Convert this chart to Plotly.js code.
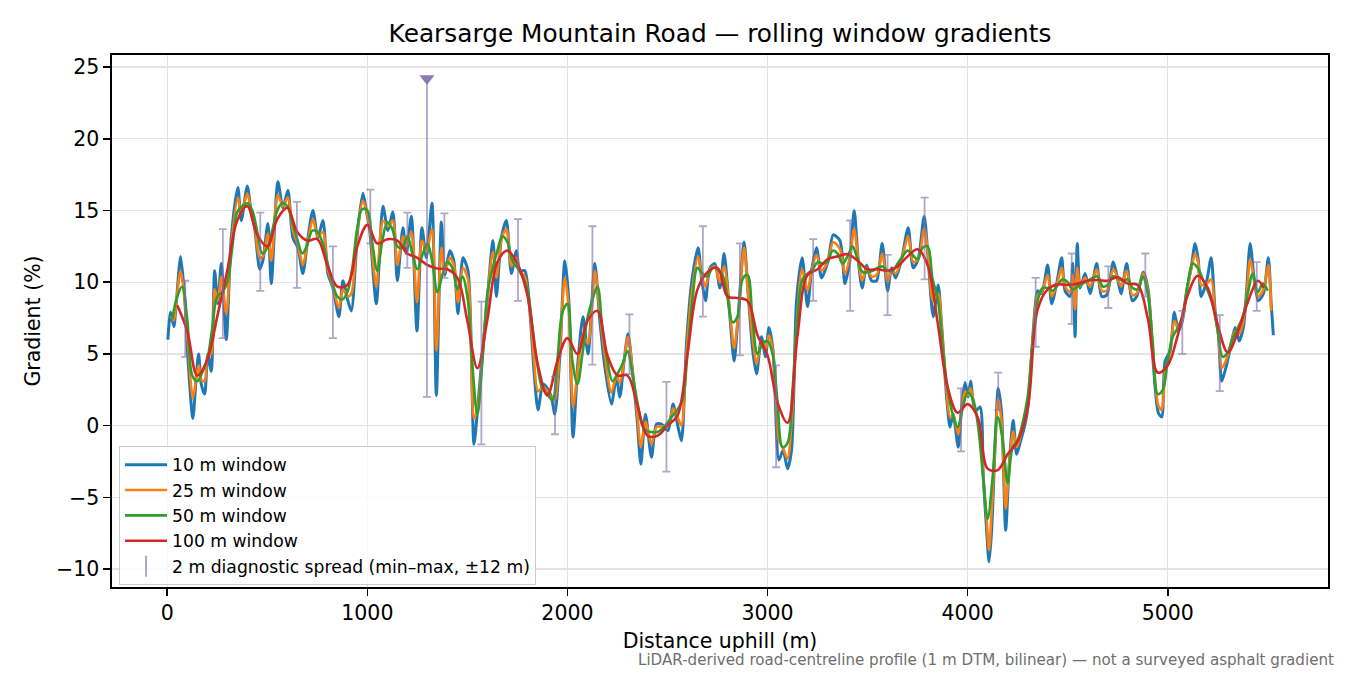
<!DOCTYPE html>
<html>
<head>
<meta charset="utf-8">
<script src="https://cdn.plot.ly/plotly-3.0.1.min.js"></script>
<style>
  html, body { margin: 0; padding: 0; background: #ffffff; }
  #gradVis { width: 1350px; height: 675px; }
</style>
</head>
<body>
<div id="gradVis"></div>
<script>
//Purpose: Rolling window gradient profile of Kearsarge Mountain Road

//////////////////////////////////////////////
///********      Chart data          *******///
//////////////////////////////////////////////
//Each series is a list of [distance (m), gradient (%)]

var win10 = [[3,6.0],[17,7.9],[33,6.9],[45,8.5],[67,11.8],[87,9.0],[103,4.8],[128,0.5],[145,3.4],[157,5.0],
  [170,2.9],[187,2.2],[203,5.0],[220,3.8],[237,10.8],[253,8.5],[270,11.3],[295,6.0],[320,13.1],[353,16.6],
  [370,14.3],[400,16.7],[420,14.8],[437,13.8],[462,10.9],[478,11.5],[503,14.1],[520,9.9],[553,17.0],[578,15.2],
  [603,16.4],[628,13.1],[653,12.4],[678,10.6],[703,13.1],[728,15.0],[753,13.1],[778,14.3],[803,10.6],[828,9.6],
  [858,7.6],[878,10.1],[903,8.7],[920,8.0],[953,13.8],[978,16.2],[995,15.0],[1012,13.6],[1045,8.5],[1078,15.3],
  [1103,13.6],[1128,14.9],[1150,10.1],[1178,13.8],[1195,12.0],[1220,14.6],[1248,6.6],[1273,13.8],[1295,11.7],[1323,15.5],
  [1345,2.1],[1370,14.2],[1387,10.5],[1412,12.2],[1432,11.5],[1453,7.8],[1478,11.7],[1503,10.8],[1533,-1.3],[1553,1.5],
  [1575,5.0],[1595,8.0],[1628,12.9],[1645,9.0],[1670,13.1],[1695,14.3],[1720,10.6],[1745,12.2],[1762,10.8],[1787,10.8],
  [1812,8.0],[1832,4.0],[1853,1.1],[1878,2.9],[1900,2.6],[1920,2.0],[1937,0.8],[1962,4.8],[1987,11.5],[2007,8.7],
  [2028,-0.8],[2053,4.5],[2078,7.6],[2103,5.0],[2137,11.3],[2162,7.3],[2187,4.1],[2220,1.5],[2245,3.4],[2262,2.0],
  [2283,4.5],[2303,6.4],[2328,3.4],[2348,0.5],[2367,-2.7],[2390,0.8],[2420,-2.2],[2445,0.1],[2470,0.1],[2503,-0.35],
  [2528,1.5],[2553,-0.1],[2570,-1.05],[2595,5.7],[2620,9.9],[2653,12.4],[2670,10.3],[2690,8.7],[2712,11.0],[2737,11.3],
  [2762,9.6],[2783,12.0],[2812,7.6],[2833,4.5],[2853,7.6],[2883,12.8],[2903,9.2],[2928,5.0],[2945,3.6],[2970,6.2],
  [2990,4.8],[3007,6.85],[3028,5.2],[3057,-2.4],[3078,-1.7],[3100,-3.0],[3120,-1.7],[3145,8.7],[3173,11.7],[3200,8.3],
  [3220,10.8],[3245,12.4],[3270,10.3],[3303,11.5],[3328,13.3],[3362,12.9],[3387,9.9],[3412,11.6],[3433,15.0],[3453,11.6],
  [3473,9.6],[3495,11.2],[3520,10.1],[3545,10.1],[3573,12.7],[3600,9.4],[3620,11.0],[3640,10.3],[3670,11.6],[3703,13.8],
  [3728,11.0],[3753,11.6],[3783,14.6],[3803,11.6],[3828,7.6],[3853,9.8],[3870,7.0],[3895,2.0],[3912,-0.1],[3928,0.8],
  [3953,-1.5],[3970,1.3],[3987,3.0],[4003,2.0],[4015,3.1],[4037,1.0],[4062,1.3],[4078,-3.5],[4095,-7.3],[4107,-9.5],
  [4120,-7.3],[4137,-1.5],[4153,2.6],[4170,0.8],[4190,-7.3],[4208,-2.7],[4228,0.35],[4245,-2.0],[4265,-1.05],[4287,0.1],
  [4303,1.5],[4328,6.6],[4350,9.4],[4370,9.2],[4400,11.2],[4420,8.5],[4445,9.9],[4470,11.7],[4487,9.4],[4512,9.0],
  [4525,11.3],[4537,6.2],[4548,12.7],[4562,9.6],[4587,10.6],[4612,9.2],[4645,11.3],[4670,9.0],[4695,9.1],[4728,11.4],
  [4753,10.0],[4767,9.2],[4795,11.3],[4823,8.7],[4845,9.0],[4878,10.7],[4903,9.4],[4928,4.3],[4953,0.9],[4970,0.6],
  [4987,4.5],[5012,5.2],[5033,7.9],[5053,6.6],[5073,7.3],[5095,9.4],[5117,11.0],[5137,12.7],[5153,11.5],[5167,9.0],
  [5195,10.1],[5217,11.7],[5237,8.0],[5253,6.4],[5270,3.1],[5290,4.0],[5312,5.35],[5337,6.85],[5357,5.9],[5378,6.85],
  [5395,9.6],[5412,12.7],[5433,10.1],[5453,8.7],[5478,9.2],[5503,11.7],[5517,8.5],[5528,6.3]];

var win25 = [[17,7.6],[33,7.35],[45,8.6],[67,10.8],[87,8.8],[103,5.8],[128,1.9],[145,3.3],[157,4.2],
  [170,3.2],[187,3.1],[203,4.9],[220,5.0],[237,9.5],[253,8.7],[270,10.4],[295,7.8],[320,12.6],[353,15.9],
  [370,14.8],[400,16.2],[420,14.9],[437,14.0],[462,11.7],[478,11.8],[503,13.4],[520,11.5],[553,16.1],[578,15.3],
  [603,15.9],[628,13.6],[653,12.6],[678,11.2],[703,12.9],[728,14.4],[753,13.2],[778,13.5],[803,10.9],[828,9.7],
  [858,8.2],[878,9.5],[903,9.0],[920,9.2],[953,13.9],[978,15.7],[995,15.0],[1012,13.8],[1045,9.7],[1078,14.3],
  [1103,13.9],[1128,14.3],[1150,11.2],[1178,13.2],[1195,12.5],[1220,13.5],[1248,8.6],[1273,12.9],[1295,12.1],[1323,13.7],
  [1345,5.2],[1370,12.4],[1387,10.7],[1412,11.7],[1432,11.2],[1453,8.6],[1478,11.0],[1503,10.2],[1533,0.5],[1553,1.4],
  [1575,4.8],[1595,8.2],[1628,12.1],[1645,10.3],[1670,13.0],[1695,13.7],[1720,11.1],[1745,11.7],[1762,10.8],[1787,10.4],
  [1812,8.1],[1832,4.8],[1853,2.4],[1878,2.7],[1900,2.4],[1920,1.95],[1937,1.8],[1962,5.5],[1987,10.3],[2007,8.1],
  [2028,1.3],[2053,4.0],[2078,6.3],[2103,5.7],[2137,10.8],[2162,7.9],[2187,4.9],[2220,2.3],[2245,3.45],[2262,3.0],
  [2283,4.5],[2303,6.2],[2328,3.5],[2348,1.0],[2367,-1.5],[2390,0.3],[2420,-1.3],[2445,-0.1],[2470,-0.05],[2503,0.0],
  [2528,1.2],[2553,0.5],[2570,0.0],[2595,5.0],[2620,9.1],[2653,11.8],[2670,10.5],[2690,9.7],[2712,10.9],[2737,11.1],
  [2762,10.0],[2783,11.1],[2812,7.9],[2833,5.4],[2853,7.6],[2883,12.4],[2903,9.2],[2928,5.9],[2945,4.3],[2970,5.8],
  [2990,5.3],[3007,6.3],[3028,5.1],[3057,-1.0],[3078,-1.6],[3100,-2.3],[3120,0.2],[3145,6.8],[3173,10.9],[3200,9.4],
  [3220,10.8],[3245,11.9],[3270,10.8],[3303,11.5],[3328,12.8],[3362,12.3],[3387,10.6],[3412,11.8],[3433,13.7],[3453,11.6],
  [3473,10.1],[3495,11.0],[3520,10.4],[3545,10.5],[3573,12.0],[3600,10.0],[3620,10.9],[3640,10.6],[3670,11.6],[3703,13.2],
  [3728,11.4],[3753,11.6],[3783,13.7],[3803,11.9],[3828,8.7],[3853,9.2],[3870,6.8],[3895,2.5],[3912,0.6],[3928,0.7],
  [3953,-0.6],[3970,1.1],[3987,2.4],[4003,2.1],[4015,2.6],[4037,1.1],[4062,-0.1],[4078,-3.5],[4095,-6.5],[4107,-8.7],
  [4120,-6.0],[4137,-1.6],[4153,1.9],[4170,0.1],[4190,-5.8],[4208,-2.7],[4228,-0.4],[4245,-1.5],[4265,-0.7],[4287,0.5],
  [4303,1.9],[4328,6.4],[4350,9.1],[4370,9.3],[4400,10.5],[4420,9.0],[4445,9.8],[4470,11.0],[4487,9.7],[4512,9.3],
  [4525,10.5],[4537,8.1],[4548,11.0],[4562,9.7],[4587,10.3],[4612,9.7],[4645,10.9],[4670,9.4],[4695,9.4],[4728,10.9],
  [4753,10.15],[4767,9.7],[4795,10.8],[4823,9.1],[4845,9.2],[4878,10.6],[4903,9.2],[4928,4.9],[4953,1.4],[4970,1.1],
  [4987,3.7],[5012,5.25],[5033,7.3],[5053,6.8],[5073,7.4],[5095,9.3],[5117,10.9],[5137,12.0],[5153,11.3],[5167,9.8],
  [5195,9.9],[5217,10.2],[5237,7.7],[5253,6.3],[5270,4.0],[5290,4.5],[5312,5.5],[5337,6.6],[5357,6.4],[5378,7.3],
  [5395,9.1],[5412,11.6],[5433,10.1],[5453,9.0],[5478,9.5],[5503,11.2],[5517,8.0]];

var win50 = [[25,7.4],[50,9.0],[75,9.7],[100,7.4],[125,3.5],[150,3.1],[175,3.7],[200,4.6],[225,6.8],[250,9.0],
  [275,9.3],[300,10.0],[325,12.4],[350,14.9],[375,15.3],[400,15.5],[425,15.0],[450,13.5],[475,12.0],[500,12.4],
  [525,13.6],[550,15.0],[575,15.5],[600,15.3],[625,14.2],[650,13.0],[675,12.0],[700,12.6],[725,13.6],[750,13.5],
  [775,12.8],[800,11.4],[825,10.0],[850,9.0],[875,8.8],[900,9.3],[925,11.0],[950,13.8],[975,15.1],[1000,15.0],
  [1025,12.7],[1050,10.8],[1075,12.9],[1100,14.2],[1125,13.7],[1150,12.5],[1175,12.4],[1200,13.2],[1225,12.0],[1250,10.9],
  [1275,11.9],[1300,12.7],[1325,11.4],[1350,9.3],[1375,10.5],[1400,11.4],[1425,11.0],[1450,9.5],[1475,10.4],[1500,9.0],
  [1525,4.2],[1550,0.8],[1575,4.5],[1600,9.2],[1625,10.9],[1650,12.2],[1675,13.2],[1700,12.8],[1725,11.5],[1750,11.0],
  [1775,10.4],[1800,9.5],[1825,6.9],[1850,4.2],[1875,2.6],[1900,2.2],[1925,1.8],[1950,4.6],[1975,7.9],[2000,8.5],
  [2025,4.5],[2050,2.9],[2075,5.0],[2100,7.5],[2125,8.8],[2150,9.7],[2175,6.7],[2200,4.5],[2225,3.1],[2250,3.6],
  [2275,4.3],[2300,5.2],[2325,3.6],[2350,1.6],[2375,0.0],[2400,-0.4],[2425,-0.45],[2450,-0.45],[2475,-0.2],[2500,0.2],
  [2525,0.7],[2550,1.1],[2575,1.8],[2600,5.0],[2625,8.8],[2650,11.0],[2675,10.6],[2700,10.4],[2725,11.0],[2750,10.9],
  [2775,10.5],[2800,8.9],[2825,7.2],[2850,7.6],[2875,10.2],[2900,10.5],[2925,7.4],[2950,5.0],[2975,5.7],[3000,5.9],
  [3025,5.0],[3050,1.6],[3075,-1.5],[3100,-1.2],[3125,2.5],[3150,7.5],[3175,10.2],[3200,10.6],[3225,10.9],[3250,11.4],
  [3275,11.3],[3300,11.4],[3325,12.2],[3350,12.0],[3375,11.3],[3400,11.8],[3425,12.5],[3450,11.6],[3475,10.7],[3500,10.7],
  [3525,10.8],[3550,11.0],[3575,11.1],[3600,10.8],[3625,10.8],[3650,11.3],[3675,11.8],[3700,12.2],[3725,11.9],[3750,11.6],
  [3775,12.4],[3800,12.5],[3825,10.2],[3850,8.9],[3875,5.5],[3900,2.6],[3925,0.8],[3950,-0.1],[3975,1.2],[4000,2.3],
  [4025,1.9],[4050,0.2],[4075,-3.2],[4100,-6.5],[4125,-3.6],[4150,0.6],[4175,-1.0],[4200,-4.0],[4225,-1.5],[4250,-1.0],
  [4275,0.2],[4300,2.0],[4325,5.8],[4350,8.7],[4375,9.6],[4400,9.6],[4425,9.4],[4450,9.8],[4475,10.2],[4500,10.0],
  [4525,9.5],[4550,9.7],[4575,9.9],[4600,10.1],[4625,10.3],[4650,10.4],[4675,9.7],[4700,9.8],[4725,10.4],[4750,10.3],
  [4775,10.1],[4800,10.2],[4825,9.6],[4850,9.5],[4875,10.4],[4900,9.2],[4925,5.8],[4950,2.2],[4975,2.5],[5000,4.5],
  [5025,6.2],[5050,6.8],[5075,7.7],[5100,9.9],[5125,11.3],[5150,11.0],[5175,10.2],[5200,9.4],[5225,8.4],[5250,6.6],
  [5275,4.8],[5300,5.1],[5325,6.1],[5350,6.8],[5375,7.6],[5400,9.2],[5425,10.6],[5450,9.3],[5475,9.9],[5500,9.4]];

var win100 = [[50,8.4],[100,6.6],[150,3.5],[200,4.6],[250,7.6],[300,10.8],[350,14.3],[400,15.3],[450,13.3],[500,12.5],
  [550,14.4],[600,15.2],[650,13.5],[700,12.9],[750,13.0],[800,11.2],[850,9.7],[900,9.8],[950,12.5],[1000,14.0],
  [1050,12.7],[1100,13.0],[1150,12.9],[1200,12.0],[1250,11.7],[1300,11.2],[1350,10.95],[1400,10.9],[1450,10.3],[1500,7.3],
  [1550,4.0],[1600,7.4],[1650,11.4],[1700,12.2],[1750,11.3],[1800,9.1],[1850,4.4],[1900,2.1],[1950,4.5],[2000,6.1],
  [2050,5.0],[2100,7.3],[2150,8.0],[2200,4.9],[2250,3.5],[2300,3.5],[2350,1.4],[2400,-0.7],[2450,-0.7],[2500,0.0],
  [2550,0.7],[2600,5.0],[2650,9.5],[2700,10.7],[2750,11.0],[2800,9.0],[2850,8.9],[2900,8.7],[2950,6.3],[3000,4.9],
  [3050,1.6],[3100,0.2],[3150,6.3],[3200,10.5],[3250,10.9],[3300,11.6],[3350,11.8],[3400,11.95],[3450,11.5],[3500,10.9],
  [3550,10.9],[3600,10.8],[3650,11.1],[3700,11.8],[3750,12.3],[3800,11.2],[3850,7.2],[3900,2.7],[3950,0.9],[4000,1.5],
  [4050,0.6],[4100,-3.0],[4150,-3.1],[4200,-2.0],[4250,-1.1],[4300,1.2],[4350,8.1],[4400,9.5],[4450,9.85],[4500,9.8],
  [4550,9.9],[4600,10.1],[4650,10.15],[4700,10.1],[4750,10.35],[4800,9.9],[4850,9.8],[4900,7.5],[4950,3.7],[5000,4.2],
  [5050,6.3],[5100,9.1],[5150,10.45],[5200,9.6],[5250,7.0],[5300,5.1],[5350,6.5],[5400,8.6],[5450,10.1],[5480,9.6]];

//2 m diagnostic spread: checkpoint distance, min and max gradient within +-12 m
var spreadDist = [90, 278, 465, 648, 828, 1015, 1200, 1298, 1385, 1570, 1753, 1938, 2125, 2310, 2495, 2677,
  2862, 3043, 3228, 3413, 3600, 3785, 3967, 4153, 4340, 4520, 4703, 4888, 5073, 5260, 5445];
var spreadMin = [4.8, 6.1, 9.4, 9.6, 6.1, 12.7, 11.0, 2.0, 10.3, -1.3, 8.7, -0.6, 4.25, 3.6, -3.2, 7.6,
  4.9, -2.9, 8.7, 8.0, 7.7, 10.2, -1.8, 1.1, 5.5, 7.1, 8.2, 9.0, 5.0, 2.4, 8.0];
var spreadMax = [10.1, 13.7, 14.85, 15.6, 12.5, 16.45, 14.85, 24.2, 14.8, 8.65, 14.4, 3.4, 13.9, 7.75, 3.05, 13.9,
  12.7, 4.2, 13.0, 14.3, 11.9, 15.9, 2.6, 3.7, 10.3, 12.0, 11.1, 12.0, 8.0, 7.7, 11.4];
//Spread that runs off the top of the chart, flagged with a marker
var clipDist = [1298];
var clipGrad = [24.2];

var seriesNames = ['10 m window', '25 m window', '50 m window', '100 m window'];
var seriesColors = ['#1f77b4', '#ff7f0e', '#2ca02c', '#d62728'];
var spreadName = '2 m diagnostic spread (min\u2013max, \u00b112 m)';
var spreadColor = 'rgba(128, 112, 168, 0.62)';

///////////////////////////////////////////////////////////////////
///********            Plotting with plot.ly             *******///
///////////////////////////////////////////////////////////////////

//Purpose: turn a list of [x, y] pairs into a smoothed line trace
function makeLine(pairs, name, color, width, smooth) {
    return {
        x: pairs.map(function(p) { return p[0]; }),
        y: pairs.map(function(p) { return p[1]; }),
        mode: 'lines', type: 'scatter', name: name,
        line: {color: color, width: width, shape: 'spline', smoothing: smooth}, hoverinfo: 'skip'
    };
}

var font = 'DejaVu Sans, Liberation Sans, sans-serif';

var mid = [], up = [], down = [];
for (var i = 0; i < spreadDist.length; i++) {
    mid.push((spreadMin[i] + spreadMax[i]) / 2);
    up.push(spreadMax[i] - mid[i]);
    down.push(mid[i] - spreadMin[i]);
}

var spreadviz = { x: spreadDist, y: mid, mode: 'markers', type: 'scatter',
  marker: {size: 1, color: 'rgba(0,0,0,0)'}, showlegend: false, hoverinfo: 'skip',
  error_y: {type: 'data', symmetric: false, array: up, arrayminus: down,
    color: spreadColor, thickness: 1.8, width: 4}
};
var clipviz = { x: clipDist, y: clipGrad, mode: 'markers', type: 'scatter',
  marker: {symbol: 'triangle-down', size: 13, color: '#8a7daf'},
  showlegend: false, hoverinfo: 'skip'
};
//Legend-only entry standing in for the error bars
var spreadKey = { x: [null], y: [null], mode: 'markers', type: 'scatter', name: spreadName,
  marker: {symbol: 'line-ns-open', size: 15, color: spreadColor, line: {width: 2, color: spreadColor}}
};

var data = [
    makeLine(win10, seriesNames[0], seriesColors[0], 3, 0.7),
    makeLine(win25, seriesNames[1], seriesColors[1], 2.6, 0.8),
    makeLine(win50, seriesNames[2], seriesColors[2], 2.6, 1),
    makeLine(win100, seriesNames[3], seriesColors[3], 2.6, 1),
    spreadviz, clipviz, spreadKey
];

var axisStyle = {
    showline: true, mirror: true, linecolor: '#000000', linewidth: 1.6,
    ticks: 'outside', ticklen: 7, tickwidth: 1.6, tickcolor: '#000000',
    showgrid: true, gridcolor: '#e4e4e4', gridwidth: 1.2, zeroline: false,
    tickfont: {family: font, size: 20.5, color: '#000000'}
};

var layout = {
    width: 1350, height: 675,
    margin: {l: 112, r: 22, t: 55, b: 88},
    paper_bgcolor: '#ffffff', plot_bgcolor: '#ffffff',
    font: {family: font, color: '#000000'},
    title: {text: 'Kearsarge Mountain Road \u2014 rolling window gradients',
      font: {family: font, size: 24.8, color: '#000000'},
      x: 0.5, xref: 'paper', xanchor: 'center', y: 0.95, yref: 'container', yanchor: 'middle'},
    xaxis: Object.assign({}, axisStyle, {
      range: [-276, 5801], tickvals: [0, 1000, 2000, 3000, 4000, 5000],
      title: {text: 'Distance uphill (m)', font: {family: font, size: 20.5}, standoff: 9}
    }),
    yaxis: Object.assign({}, axisStyle, {
      range: [-11.25, 25.84], tickvals: [-10, -5, 0, 5, 10, 15, 20, 25],
      title: {text: 'Gradient (%)', font: {family: font, size: 20.5}, standoff: 10}
    }),
    legend: {x: 0.0058, y: 0.265, xanchor: 'left', yanchor: 'top', itemwidth: 42,
      bgcolor: 'rgba(255,255,255,0.8)', bordercolor: '#cccccc', borderwidth: 1,
      font: {family: font, size: 17.2, color: '#000000'}},
    annotations: [{
      text: 'LiDAR-derived road-centreline profile (1 m DTM, bilinear) \u2014 not a surveyed asphalt gradient',
      xref: 'paper', yref: 'paper', x: 1.0066, y: -0.137, xanchor: 'right', yanchor: 'middle',
      showarrow: false, font: {family: font, size: 15.1, color: '#6e6e6e'}
    }],
    showlegend: true
};

Plotly.newPlot('gradVis', data, layout, {staticPlot: true});
</script>
</body>
</html>
